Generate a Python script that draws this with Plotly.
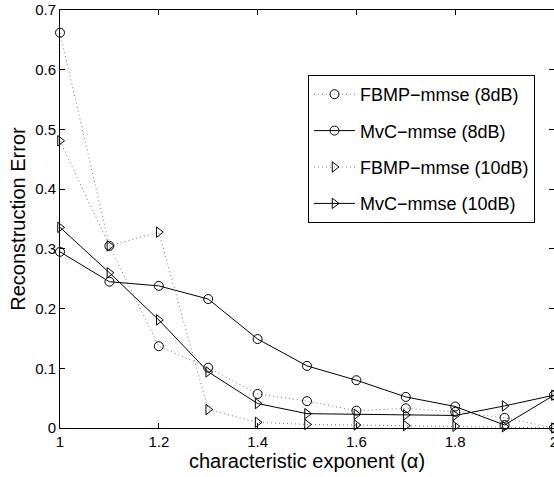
import plotly.graph_objects as go

alpha = [1.0, 1.1, 1.2, 1.3, 1.4, 1.5, 1.6, 1.7, 1.8, 1.9, 2.0]
fbmp_8db = [0.662, 0.305, 0.137, 0.101, 0.057, 0.045, 0.029, 0.033, 0.027, 0.017, 0.0]
mvc_8db = [0.295, 0.245, 0.238, 0.216, 0.149, 0.104, 0.080, 0.052, 0.036, 0.005, 0.055]
fbmp_10db = [0.481, 0.305, 0.328, 0.031, 0.0095, 0.006, 0.005, 0.004, 0.003, 0.002, 0.0]
mvc_10db = [0.336, 0.260, 0.181, 0.094, 0.041, 0.024, 0.023, 0.022, 0.021, 0.037, 0.055]

x_ticks = [1, 1.2, 1.4, 1.6, 1.8, 2]
x_ticklabels = ["1", "1.2", "1.4", "1.6", "1.8", "2"]
y_ticks = [0, 0.1, 0.2, 0.3, 0.4, 0.5, 0.6, 0.7]
y_ticklabels = ["0", "0.1", "0.2", "0.3", "0.4", "0.5", "0.6", "0.7"]

series = [
    ("FBMP\u2212mmse (8dB)", fbmp_8db, "circle-open", "1px,3px", "#777777"),
    ("MvC\u2212mmse (8dB)", mvc_8db, "circle-open", "solid", "black"),
    ("FBMP\u2212mmse (10dB)", fbmp_10db, "triangle-right-open", "1px,3px", "#777777"),
    ("MvC\u2212mmse (10dB)", mvc_10db, "triangle-right-open", "solid", "black"),
]

fig = go.Figure()
for i, (name, vals, sym, dash, lcol) in enumerate(series):
    fig.add_trace(go.Scatter(
        x=alpha, y=vals, name=name, mode="lines+markers",
        line=dict(color=lcol, width=1, dash=dash),
        marker=dict(symbol=sym, size=9, color="black", line=dict(width=1, color="black")),
        cliponaxis=False, legendgroup=f"g{i}",
    ))

# empty trace to carry the right-hand tick axis
fig.add_trace(go.Scatter(x=[], y=[], yaxis="y2", showlegend=False, hoverinfo="skip"))

font_family = "Liberation Sans, Arial, Helvetica, sans-serif"
fig.update_layout(
    width=554, height=477,
    margin=dict(l=60, r=0, t=10, b=49, autoexpand=False),
    paper_bgcolor="white", plot_bgcolor="white",
    font=dict(family=font_family, size=15, color="black"),
    showlegend=True,
    legend=dict(
        x=0.502, y=0.8445, xanchor="left", yanchor="top",
        bordercolor="black", borderwidth=1, bgcolor="white",
        font=dict(size=18), tracegroupgap=10, traceorder="grouped",
        itemwidth=41, entrywidth=226, entrywidthmode="pixels",
    ),
    xaxis=dict(
        range=[1, 2], tickvals=x_ticks, ticktext=x_ticklabels,
        ticks="inside", ticklen=5, tickcolor="black", ticklabeloverflow="allow",
        showline=True, linecolor="black", linewidth=1, mirror="ticks",
        showgrid=False, zeroline=False, automargin=False,
        title=dict(text="characteristic exponent (\u03b1)", font=dict(size=20), standoff=2),
    ),
    yaxis=dict(
        range=[0, 0.7], tickvals=y_ticks, ticktext=y_ticklabels,
        ticks="inside", ticklen=5, tickcolor="black", ticklabeloverflow="allow",
        showline=True, linecolor="black", linewidth=1,
        showgrid=False, zeroline=False, automargin=False,
        title=dict(text="Reconstruction Error", font=dict(size=20), standoff=4),
    ),
    yaxis2=dict(
        overlaying="y", side="right", range=[0, 0.7], tickvals=y_ticks,
        ticks="inside", ticklen=5, tickcolor="black", automargin=False,
        showticklabels=False, showline=False, showgrid=False, zeroline=False,
    ),
)

fig.write_html(
    "out.html",
    config={"displayModeBar": False},
    post_script="document.body.style.margin='0';document.body.style.padding='0';",
)
